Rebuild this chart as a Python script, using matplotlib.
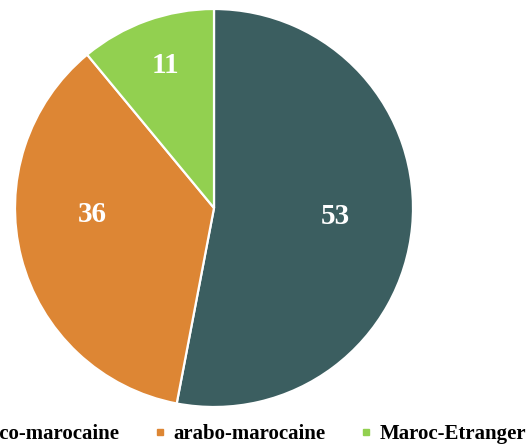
import matplotlib
matplotlib.use("Agg")
import matplotlib.pyplot as plt
from matplotlib.lines import Line2D

# Data
categories = ["franco-marocaine", "arabo-marocaine", "Maroc-Etranger"]
values = [53, 36, 11]
colors = ["#3B5E60", "#DD8634", "#92D050"]

# Layout: label positions (fraction of radius), chosen to match the reference
label_pos = [(0.608, -0.045), (-0.613, -0.035), (-0.246, 0.714)]

plt.rcParams['font.family'] = ['Liberation Serif', 'DejaVu Serif']

fig = plt.figure(figsize=(5.28, 4.48), dpi=100)
ax = fig.add_axes([15/528, 1 - 407/448, 398/528, 398/448])

wedges, _ = ax.pie(values, colors=colors, startangle=90, counterclock=False,
                   radius=1.0, wedgeprops=dict(edgecolor="white", linewidth=1.6))
ax.set_xlim(-1, 1)
ax.set_ylim(-1, 1)
ax.set_aspect("equal")
ax.axis("off")

for v, (x, y) in zip(values, label_pos):
    ax.text(x, y, str(v), ha="center", va="center", color="white",
            fontsize=21, fontweight="bold")

handles = [Line2D([0], [0], marker="s", linestyle="none", markersize=5,
                  markerfacecolor=c, markeredgecolor=c) for c in colors]
fig.legend(handles, categories, loc="center right", ncol=3, frameon=False,
           bbox_to_anchor=(526/528, 1 - 434/448),
           prop=dict(weight="bold", size=15),
           handlelength=0.6, handletextpad=0.35, columnspacing=1.64,
           borderpad=0, borderaxespad=0)

fig.savefig("out.png", dpi=100)
